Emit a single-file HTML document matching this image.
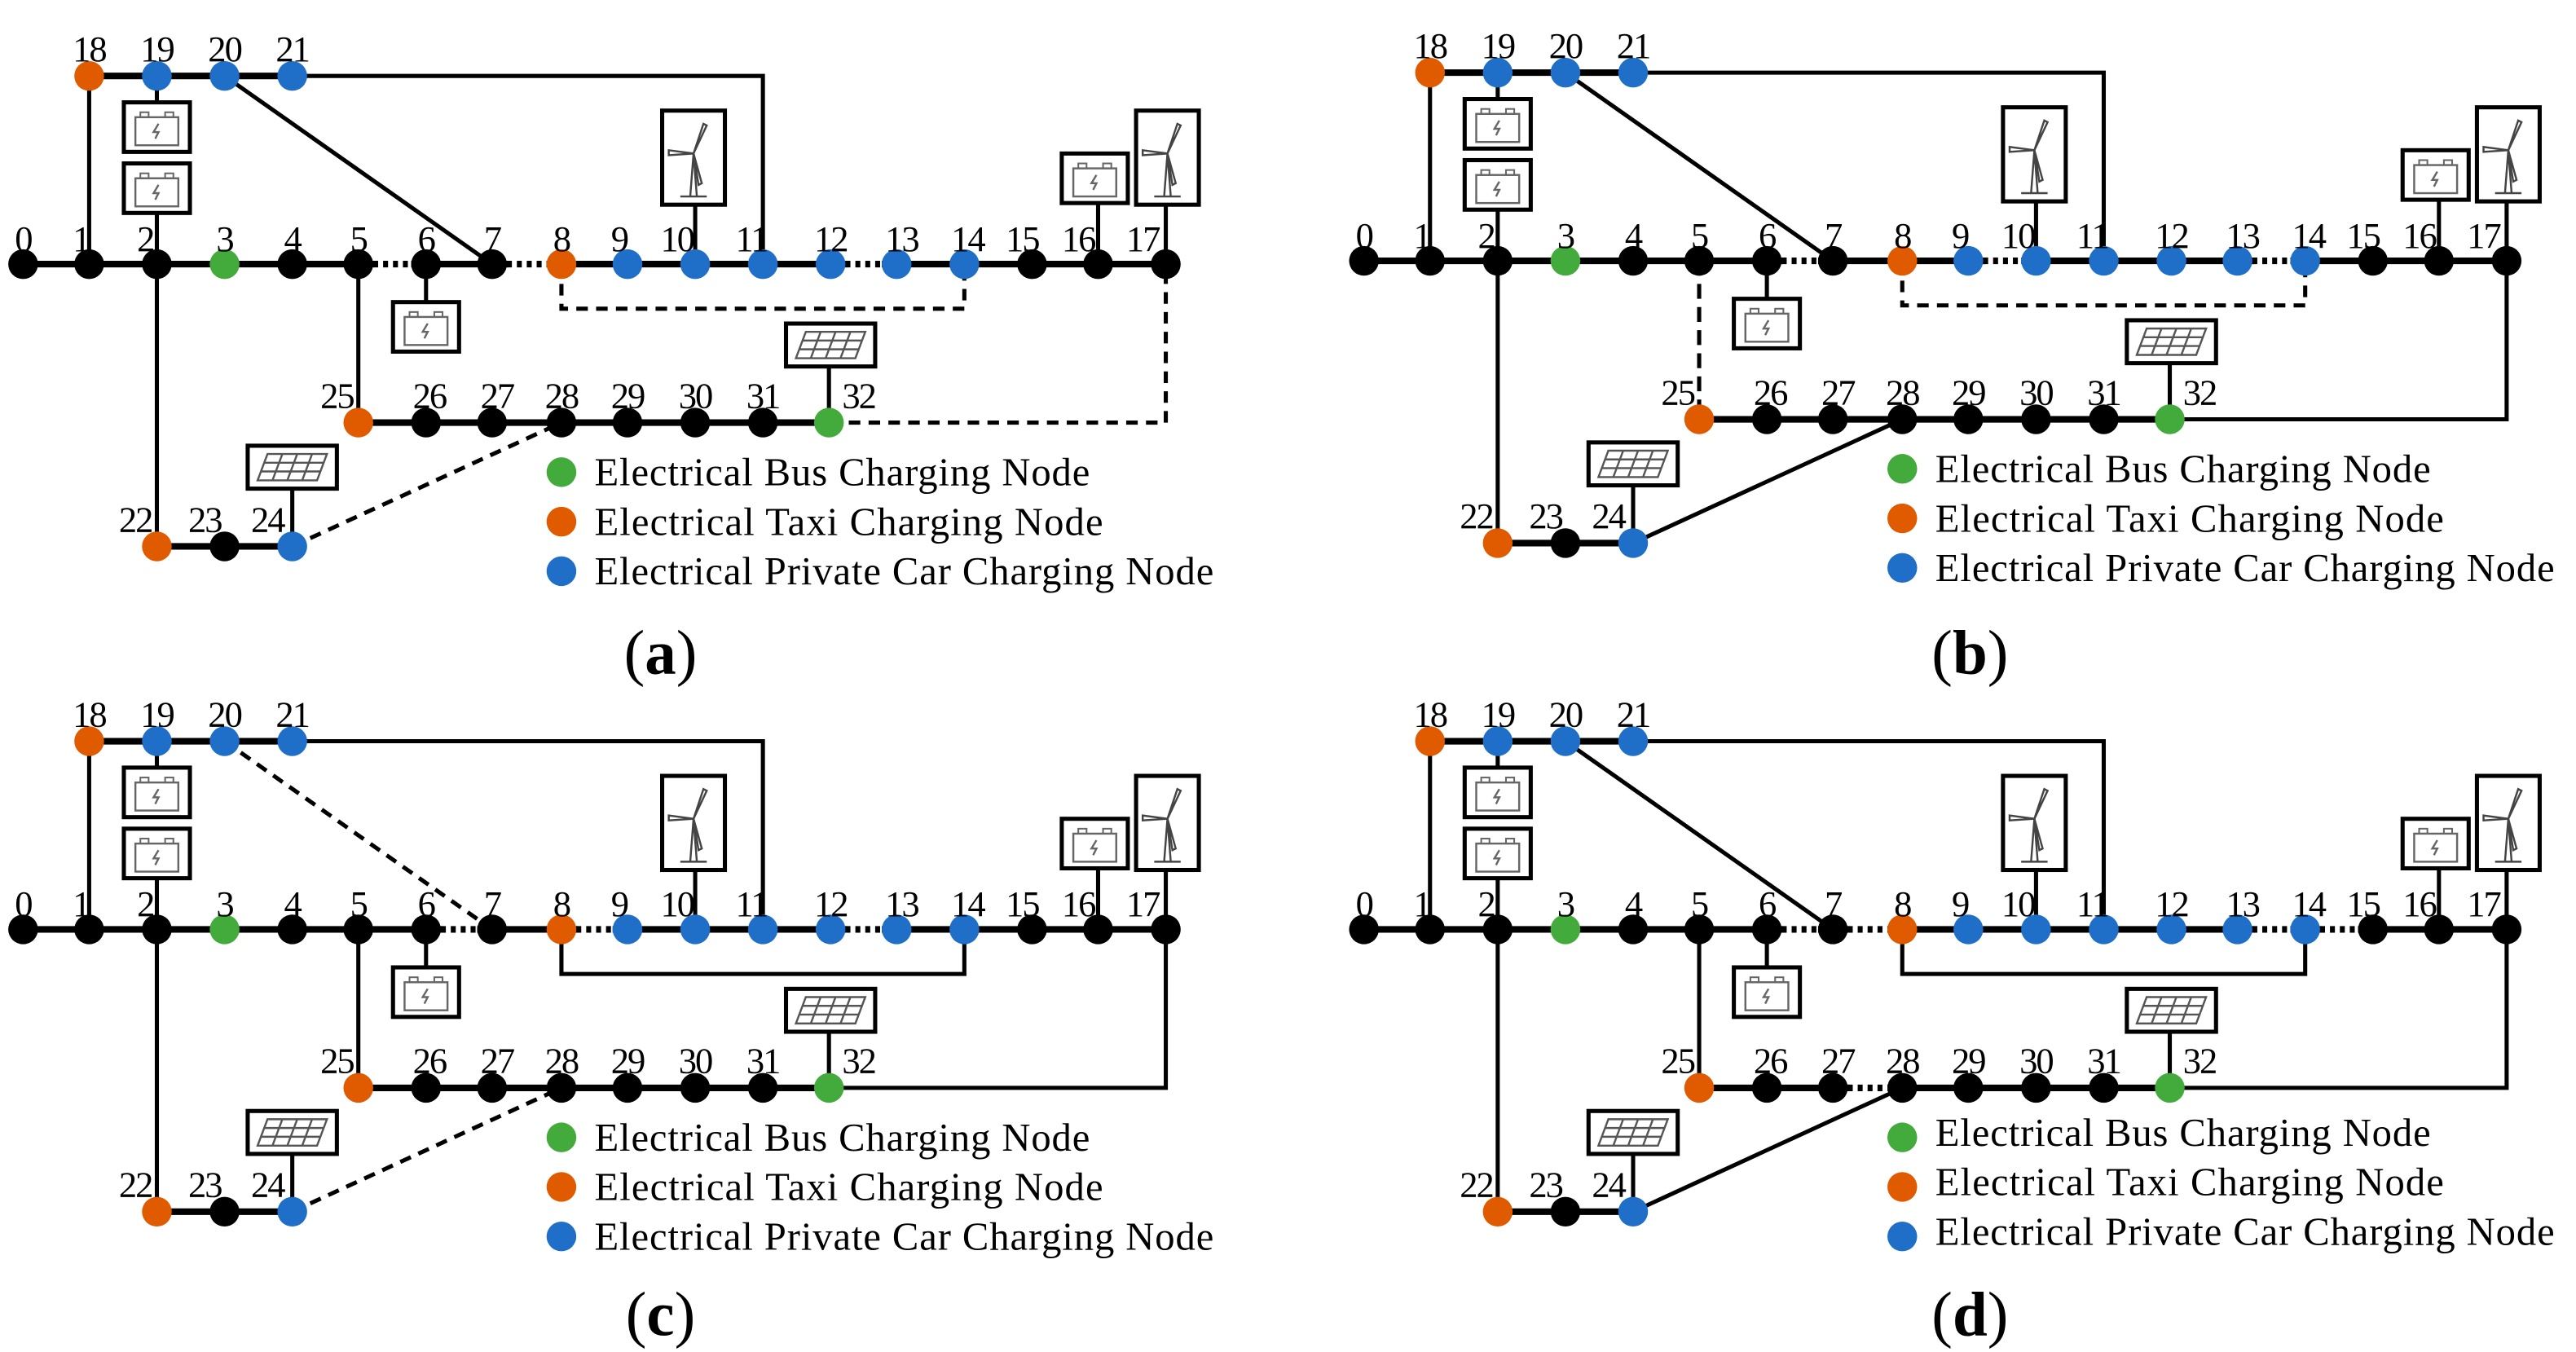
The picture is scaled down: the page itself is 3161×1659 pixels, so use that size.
<!DOCTYPE html>
<html><head><meta charset="utf-8"><style>
html,body{margin:0;padding:0;background:#fff;}
svg{display:block;}
text{font-family:"Liberation Serif",serif;fill:#000;}
.n{font-size:22px;text-anchor:middle;letter-spacing:-1px;}
.lg{font-size:24px;}
.cap{font-size:38px;text-anchor:middle;}
</style></head><body>
<svg width="3161" height="1659" viewBox="0 0 1560 819" preserveAspectRatio="none" xmlns="http://www.w3.org/2000/svg">
<defs>
<g id="bat">
<rect x="0" y="0" width="40" height="30" fill="#fff" stroke="#000" stroke-width="2.5"/>
<rect x="7" y="9" width="26" height="17" fill="none" stroke="#666" stroke-width="1.2"/>
<rect x="10" y="6" width="5" height="3" fill="none" stroke="#666" stroke-width="1"/>
<rect x="25" y="6" width="5" height="3" fill="none" stroke="#666" stroke-width="1"/>
<path d="M21 13 L18 18 L21 18 L19 22" fill="none" stroke="#666" stroke-width="1.2"/>
</g>
<g id="wind">
<rect x="0" y="0" width="38" height="57" fill="#fff" stroke="#000" stroke-width="2.5"/>
<path d="M19 26 L17 52 M19 26 L21 52 M11 52 L27 52" stroke="#444" stroke-width="1.2" fill="none"/>
<path d="M19 26 L25 8 L27 9 Z M19 26 L4 24 L4 27 Z M19 26 L24 44 L22 45 Z" fill="none" stroke="#444" stroke-width="1.2"/>
</g>
<g id="sol">
<rect x="0" y="0" width="54" height="26" fill="#fff" stroke="#000" stroke-width="2.5"/>
<path d="M12 5 L48 5 L42 21 L6 21 Z M10 10.3 L46 10.3 M8 15.6 L44 15.6 M21 5 L15 21 M30 5 L24 21 M39 5 L33 21" fill="none" stroke="#555" stroke-width="1.2"/>
</g>
<g id="base" stroke="#000" fill="none">
<line x1="14" y1="160" x2="706" y2="160" stroke-width="4"/>
<line x1="54" y1="46" x2="177" y2="46" stroke-width="4"/>
<line x1="217" y1="256" x2="502" y2="256" stroke-width="4"/>
<line x1="95" y1="331" x2="177" y2="331" stroke-width="4"/>
<polyline points="177,46 462,46 462,160" stroke-width="2.5"/>
<line x1="54" y1="46" x2="54" y2="160" stroke-width="2.5"/>
<line x1="95" y1="160" x2="95" y2="331" stroke-width="2.5"/>
<line x1="95" y1="46" x2="95" y2="62" stroke-width="2.5"/>
<line x1="95" y1="129" x2="95" y2="160" stroke-width="2.5"/>
<line x1="258" y1="160" x2="258" y2="183" stroke-width="2.5"/>
<line x1="421" y1="124" x2="421" y2="160" stroke-width="2.5"/>
<line x1="665" y1="124" x2="665" y2="160" stroke-width="2.5"/>
<line x1="706" y1="124" x2="706" y2="160" stroke-width="2.5"/>
<line x1="502" y1="222" x2="502" y2="256" stroke-width="2.5"/>
<line x1="177" y1="296" x2="177" y2="331" stroke-width="2.5"/>
</g>
<g id="icons">
<use href="#bat" x="75" y="62"/><use href="#bat" x="75" y="99"/>
<use href="#bat" x="238" y="183"/><use href="#bat" x="643" y="93"/>
<use href="#wind" x="401" y="67"/><use href="#wind" x="688" y="67"/>
<use href="#sol" x="476" y="196"/><use href="#sol" x="150" y="270"/>
</g>
<g id="nodes">
<circle cx="14" cy="160" r="9" fill="#000"/><circle cx="54" cy="160" r="9" fill="#000"/><circle cx="95" cy="160" r="9" fill="#000"/><circle cx="136" cy="160" r="9" fill="#43ab3c"/><circle cx="177" cy="160" r="9" fill="#000"/><circle cx="217" cy="160" r="9" fill="#000"/><circle cx="258" cy="160" r="9" fill="#000"/><circle cx="298" cy="160" r="9" fill="#000"/><circle cx="340" cy="160" r="9" fill="#e05a00"/>
<circle cx="380" cy="160" r="9" fill="#1f6fc8"/><circle cx="421" cy="160" r="9" fill="#1f6fc8"/><circle cx="462" cy="160" r="9" fill="#1f6fc8"/><circle cx="503" cy="160" r="9" fill="#1f6fc8"/><circle cx="543" cy="160" r="9" fill="#1f6fc8"/><circle cx="584" cy="160" r="9" fill="#1f6fc8"/>
<circle cx="625" cy="160" r="9" fill="#000"/><circle cx="665" cy="160" r="9" fill="#000"/><circle cx="706" cy="160" r="9" fill="#000"/>
<circle cx="54" cy="46" r="9" fill="#e05a00"/><circle cx="95" cy="46" r="9" fill="#1f6fc8"/><circle cx="136" cy="46" r="9" fill="#1f6fc8"/><circle cx="177" cy="46" r="9" fill="#1f6fc8"/>
<circle cx="217" cy="256" r="9" fill="#e05a00"/><circle cx="258" cy="256" r="9" fill="#000"/><circle cx="298" cy="256" r="9" fill="#000"/><circle cx="340" cy="256" r="9" fill="#000"/><circle cx="380" cy="256" r="9" fill="#000"/><circle cx="421" cy="256" r="9" fill="#000"/><circle cx="462" cy="256" r="9" fill="#000"/><circle cx="502" cy="256" r="9" fill="#43ab3c"/>
<circle cx="95" cy="331" r="9" fill="#e05a00"/><circle cx="136" cy="331" r="9" fill="#000"/><circle cx="177" cy="331" r="9" fill="#1f6fc8"/>
<circle cx="340" cy="286" r="9" fill="#43ab3c"/><circle cx="340" cy="316" r="9" fill="#e05a00"/><circle cx="340" cy="346" r="9" fill="#1f6fc8"/>
</g>
</defs>

<!-- PANEL A -->
<g transform="translate(0,0)">
<use href="#base"/>
<g stroke="#000" fill="none">
<line x1="136" y1="46" x2="298" y2="160" stroke-width="2.5"/>
<line x1="217" y1="160" x2="217" y2="256" stroke-width="2.5"/>
<polyline points="340,160 340,187 584,187 584,160" stroke-width="2.5" stroke-dasharray="7,5"/>
<polyline points="502,256 706,256 706,160" stroke-width="2.5" stroke-dasharray="7,5"/>
<line x1="177" y1="331" x2="340" y2="256" stroke-width="2.5" stroke-dasharray="7,5"/>
<g stroke-width="6"><line x1="227" y1="160" x2="249" y2="160" stroke="#fff"/><line x1="308" y1="160" x2="331" y2="160" stroke="#fff"/><line x1="513" y1="160" x2="534" y2="160" stroke="#fff"/></g>
<g stroke-width="4" stroke-dasharray="3,3"><line x1="226" y1="160" x2="250" y2="160"/><line x1="307" y1="160" x2="332" y2="160"/><line x1="512" y1="160" x2="535" y2="160"/></g>
</g>
<use href="#icons"/><use href="#nodes"/>
<g class="n">
<text x="14" y="152">0</text><text x="49" y="152">1</text><text x="88" y="152">2</text><text x="136" y="152">3</text><text x="177" y="152">4</text><text x="217" y="152">5</text><text x="258" y="152">6</text><text x="298" y="152">7</text><text x="340" y="152">8</text><text x="375" y="152">9</text><text x="410" y="152">10</text><text x="455" y="152">11</text><text x="503" y="152">12</text><text x="546" y="152">13</text><text x="586" y="152">14</text><text x="619" y="152">15</text><text x="653" y="152">16</text><text x="692" y="152">17</text>
<text x="54" y="37">18</text><text x="95" y="37">19</text><text x="136" y="37">20</text><text x="177" y="37">21</text>
<text x="204" y="247">25</text><text x="260" y="247">26</text><text x="301" y="247">27</text><text x="340" y="247">28</text><text x="380" y="247">29</text><text x="421" y="247">30</text><text x="462" y="247">31</text><text x="520" y="247">32</text>
<text x="82" y="322">22</text><text x="124" y="322">23</text><text x="162" y="322">24</text>
</g>
<text class="lg" x="360" y="294" textLength="300">Electrical Bus Charging Node</text>
<text class="lg" x="360" y="324" textLength="308">Electrical Taxi Charging Node</text>
<text class="lg" x="360" y="354" textLength="375">Electrical Private Car Charging Node</text>
<text class="cap" x="400" y="408">(<tspan font-weight="bold">a</tspan>)</text>
</g>

<!-- PANEL B -->
<g transform="translate(812,-2)">
<use href="#base"/>
<g stroke="#000" fill="none">
<line x1="136" y1="46" x2="298" y2="160" stroke-width="2.5"/>
<line x1="217" y1="160" x2="217" y2="256" stroke-width="2.5" stroke-dasharray="9,5"/>
<polyline points="340,160 340,187 584,187 584,160" stroke-width="2.5" stroke-dasharray="7,5"/>
<polyline points="502,256 706,256 706,160" stroke-width="2.5"/>
<line x1="177" y1="331" x2="340" y2="256" stroke-width="2.5"/>
<g stroke-width="6"><line x1="268" y1="160" x2="289" y2="160" stroke="#fff"/><line x1="390" y1="160" x2="412" y2="160" stroke="#fff"/><line x1="553" y1="160" x2="575" y2="160" stroke="#fff"/></g>
<g stroke-width="4" stroke-dasharray="3,3"><line x1="267" y1="160" x2="290" y2="160"/><line x1="389" y1="160" x2="413" y2="160"/><line x1="552" y1="160" x2="576" y2="160"/></g>
</g>
<use href="#icons"/><use href="#nodes"/>
<g class="n">
<text x="14" y="152">0</text><text x="49" y="152">1</text><text x="88" y="152">2</text><text x="136" y="152">3</text><text x="177" y="152">4</text><text x="217" y="152">5</text><text x="258" y="152">6</text><text x="298" y="152">7</text><text x="340" y="152">8</text><text x="375" y="152">9</text><text x="410" y="152">10</text><text x="455" y="152">11</text><text x="503" y="152">12</text><text x="546" y="152">13</text><text x="586" y="152">14</text><text x="619" y="152">15</text><text x="653" y="152">16</text><text x="692" y="152">17</text>
<text x="54" y="37">18</text><text x="95" y="37">19</text><text x="136" y="37">20</text><text x="177" y="37">21</text>
<text x="204" y="247">25</text><text x="260" y="247">26</text><text x="301" y="247">27</text><text x="340" y="247">28</text><text x="380" y="247">29</text><text x="421" y="247">30</text><text x="462" y="247">31</text><text x="520" y="247">32</text>
<text x="82" y="322">22</text><text x="124" y="322">23</text><text x="162" y="322">24</text>
</g>
<text class="lg" x="360" y="294" textLength="300">Electrical Bus Charging Node</text>
<text class="lg" x="360" y="324" textLength="308">Electrical Taxi Charging Node</text>
<text class="lg" x="360" y="354" textLength="375">Electrical Private Car Charging Node</text>
<text class="cap" x="381" y="410">(<tspan font-weight="bold">b</tspan>)</text>
</g>

<!-- PANEL C -->
<g transform="translate(0,403)">
<use href="#base"/>
<g stroke="#000" fill="none">
<line x1="136" y1="46" x2="298" y2="160" stroke-width="2.5" stroke-dasharray="7,5"/>
<line x1="217" y1="160" x2="217" y2="256" stroke-width="2.5"/>
<polyline points="340,160 340,187 584,187 584,160" stroke-width="2.5"/>
<polyline points="502,256 706,256 706,160" stroke-width="2.5"/>
<line x1="177" y1="331" x2="340" y2="256" stroke-width="2.5" stroke-dasharray="7,5"/>
<g stroke-width="6"><line x1="268" y1="160" x2="289" y2="160" stroke="#fff"/><line x1="350" y1="160" x2="371" y2="160" stroke="#fff"/><line x1="513" y1="160" x2="534" y2="160" stroke="#fff"/></g>
<g stroke-width="4" stroke-dasharray="3,3"><line x1="267" y1="160" x2="290" y2="160"/><line x1="349" y1="160" x2="372" y2="160"/><line x1="512" y1="160" x2="535" y2="160"/></g>
</g>
<use href="#icons"/><use href="#nodes"/>
<g class="n">
<text x="14" y="152">0</text><text x="49" y="152">1</text><text x="88" y="152">2</text><text x="136" y="152">3</text><text x="177" y="152">4</text><text x="217" y="152">5</text><text x="258" y="152">6</text><text x="298" y="152">7</text><text x="340" y="152">8</text><text x="375" y="152">9</text><text x="410" y="152">10</text><text x="455" y="152">11</text><text x="503" y="152">12</text><text x="546" y="152">13</text><text x="586" y="152">14</text><text x="619" y="152">15</text><text x="653" y="152">16</text><text x="692" y="152">17</text>
<text x="54" y="37">18</text><text x="95" y="37">19</text><text x="136" y="37">20</text><text x="177" y="37">21</text>
<text x="204" y="247">25</text><text x="260" y="247">26</text><text x="301" y="247">27</text><text x="340" y="247">28</text><text x="380" y="247">29</text><text x="421" y="247">30</text><text x="462" y="247">31</text><text x="520" y="247">32</text>
<text x="82" y="322">22</text><text x="124" y="322">23</text><text x="162" y="322">24</text>
</g>
<text class="lg" x="360" y="294" textLength="300">Electrical Bus Charging Node</text>
<text class="lg" x="360" y="324" textLength="308">Electrical Taxi Charging Node</text>
<text class="lg" x="360" y="354" textLength="375">Electrical Private Car Charging Node</text>
<text class="cap" x="400" y="406">(<tspan font-weight="bold">c</tspan>)</text>
</g>

<!-- PANEL D -->
<g transform="translate(812,403)">
<use href="#base"/>
<g stroke="#000" fill="none">
<line x1="136" y1="46" x2="298" y2="160" stroke-width="2.5"/>
<line x1="217" y1="160" x2="217" y2="256" stroke-width="2.5"/>
<polyline points="340,160 340,187 584,187 584,160" stroke-width="2.5"/>
<polyline points="502,256 706,256 706,160" stroke-width="2.5"/>
<line x1="177" y1="331" x2="340" y2="256" stroke-width="2.5"/>
<g stroke-width="6"><line x1="268" y1="160" x2="289" y2="160" stroke="#fff"/><line x1="308" y1="160" x2="331" y2="160" stroke="#fff"/><line x1="553" y1="160" x2="575" y2="160" stroke="#fff"/><line x1="594" y1="160" x2="616" y2="160" stroke="#fff"/><line x1="308" y1="256" x2="331" y2="256" stroke="#fff"/></g>
<g stroke-width="4" stroke-dasharray="3,3"><line x1="267" y1="160" x2="290" y2="160"/><line x1="307" y1="160" x2="332" y2="160"/><line x1="552" y1="160" x2="576" y2="160"/><line x1="593" y1="160" x2="617" y2="160"/><line x1="307" y1="256" x2="332" y2="256"/></g>
</g>
<use href="#icons"/><use href="#nodes"/>
<g class="n">
<text x="14" y="152">0</text><text x="49" y="152">1</text><text x="88" y="152">2</text><text x="136" y="152">3</text><text x="177" y="152">4</text><text x="217" y="152">5</text><text x="258" y="152">6</text><text x="298" y="152">7</text><text x="340" y="152">8</text><text x="375" y="152">9</text><text x="410" y="152">10</text><text x="455" y="152">11</text><text x="503" y="152">12</text><text x="546" y="152">13</text><text x="586" y="152">14</text><text x="619" y="152">15</text><text x="653" y="152">16</text><text x="692" y="152">17</text>
<text x="54" y="37">18</text><text x="95" y="37">19</text><text x="136" y="37">20</text><text x="177" y="37">21</text>
<text x="204" y="247">25</text><text x="260" y="247">26</text><text x="301" y="247">27</text><text x="340" y="247">28</text><text x="380" y="247">29</text><text x="421" y="247">30</text><text x="462" y="247">31</text><text x="520" y="247">32</text>
<text x="82" y="322">22</text><text x="124" y="322">23</text><text x="162" y="322">24</text>
</g>
<text class="lg" x="360" y="291" textLength="300">Electrical Bus Charging Node</text>
<text class="lg" x="360" y="321" textLength="308">Electrical Taxi Charging Node</text>
<text class="lg" x="360" y="351" textLength="375">Electrical Private Car Charging Node</text>
<text class="cap" x="381" y="406">(<tspan font-weight="bold">d</tspan>)</text>
</g>
</svg>
</body></html>
